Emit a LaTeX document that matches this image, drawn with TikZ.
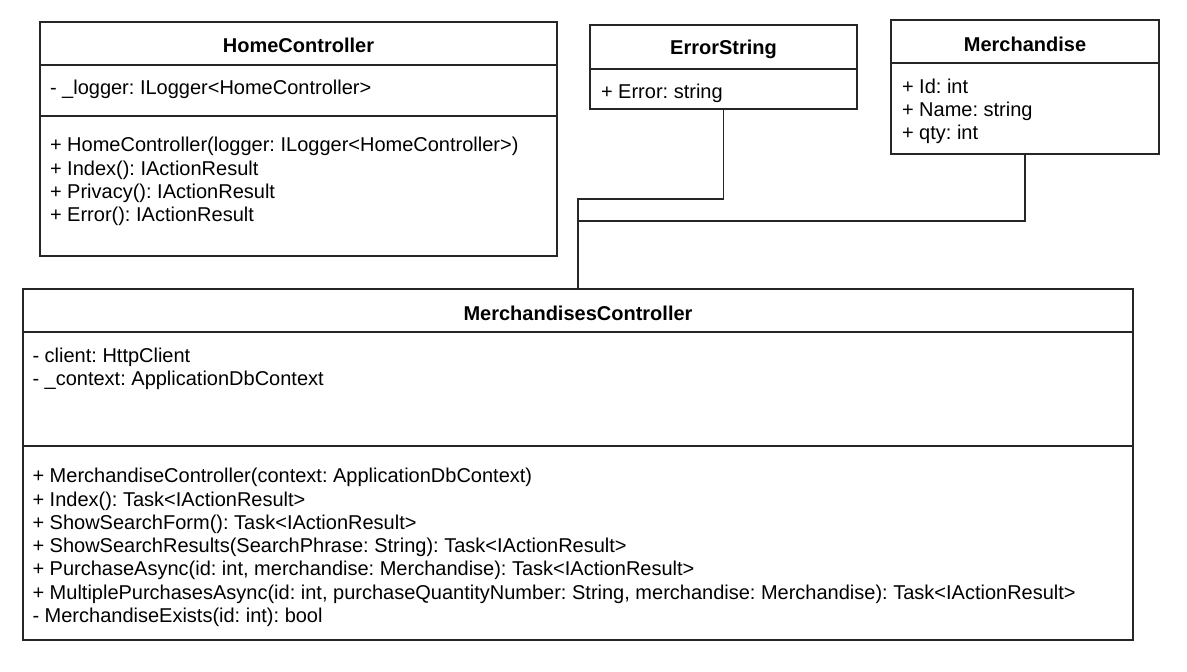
\documentclass[tikz,border=0pt]{standalone}
\usepackage{fontspec}
\setmainfont{Liberation Sans}
\frenchspacing
\begin{document}
\begin{tikzpicture}[x=1pt,y=-1pt,
  every node/.style={inner sep=0pt, outer sep=0pt},
  umlbox/.style={draw=black!85, line width=1.2pt, rectangle, anchor=north west},
  sepline/.style={draw=black!85, line width=1.2pt},
  conn/.style={draw=black!85, line width=1.2pt},
  title/.style={font=\fontsize{20}{23.3}\selectfont\bfseries},
  body/.style={font=\fontsize{20}{23.3}\selectfont, align=left, anchor=west}]
\useasboundingbox (0,0) rectangle (1187,672);
% boxes
\node[umlbox, minimum width=517pt, minimum height=234pt] (home) at (40,22) {};
\node[umlbox, minimum width=267pt, minimum height=84pt] (err) at (590,25) {};
\node[umlbox, minimum width=268pt, minimum height=134pt] (merch) at (891,20) {};
\node[umlbox, minimum width=1110pt, minimum height=351pt] (mc) at (23,289) {};
% separators
\draw[sepline] (home.west |- 0,65) -- (home.east |- 0,65);
\draw[sepline] (home.west |- 0,116) -- (home.east |- 0,116);
\draw[sepline] (err.west |- 0,69) -- (err.east |- 0,69);
\draw[sepline] (merch.west |- 0,63) -- (merch.east |- 0,63);
\draw[sepline] (mc.west |- 0,332) -- (mc.east |- 0,332);
\draw[sepline] (mc.west |- 0,446) -- (mc.east |- 0,446);
% titles
\node[title] (homeT) at (home.north |- 0,45.5) {HomeController};
\node[title] (errT) at (err.north |- 0,49.5) {ErrorString};
\node[title] (merchT) at (merch.north |- 0,44.5) {Merchandise};
\node[title] (mcT) at (mc.north |- 0,313.5) {MerchandisesController};
% bodies
\node[body] (homeA) at (50,89.5) {- \_logger: ILogger<HomeController>};
\node[body] (homeM) at (50,181.5) {+ HomeController(logger: ILogger<HomeController>)\\+ Index(): IActionResult\\+ Privacy(): IActionResult\\+ Error(): IActionResult};
\node[body] (errA) at (601,93.5) {+ Error: string};
\node[body] (merchA) at (902,111.5) {+ Id: int\\+ Name: string\\+ qty: int};
\node[body] (mcA) at (32.5,368.5) {- client: HttpClient\\- \_context: ApplicationDbContext};
\node[body] (mcM) at (32.5,547.5) {+ MerchandiseController(context: ApplicationDbContext)\\+ Index(): Task<IActionResult>\\+ ShowSearchForm(): Task<IActionResult>\\+ ShowSearchResults(SearchPhrase: String): Task<IActionResult>\\+ PurchaseAsync(id: int, merchandise: Merchandise): Task<IActionResult>\\+ MultiplePurchasesAsync(id: int, purchaseQuantityNumber: String, merchandise: Merchandise): Task<IActionResult>\\- MerchandiseExists(id: int): bool};
% connectors
\coordinate (j1) at (mc.north |- 0,199);
\coordinate (j2) at (mc.north |- 0,221);
\draw[conn] (err.south) |- (j1) -- (mc.north);
\draw[conn] (merch.south) |- (j2);
\end{tikzpicture}
\end{document}
